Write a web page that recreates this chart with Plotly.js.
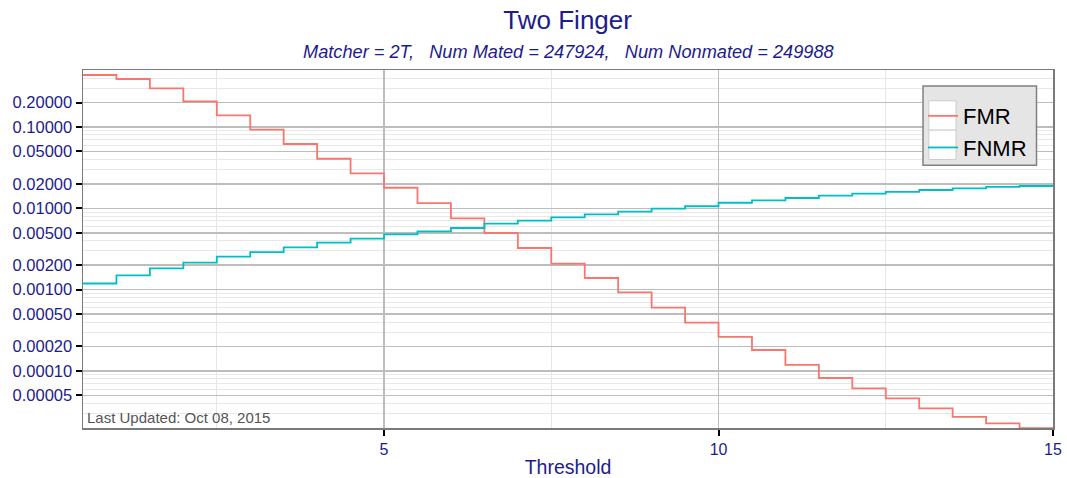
<!DOCTYPE html>
<html>
<head>
<meta charset="utf-8">
<script src="https://cdn.plot.ly/plotly-3.0.1.min.js"></script>
<style>html,body{margin:0;padding:0;background:#fff;}#chart{width:1067px;height:478px;}</style>
</head>
<body>
<div id="chart"></div>
<script>
// Thresholds (step starts), last entry closes the final step
const thresholds = [0.5,1,1.5,2,2.5,3,3.5,4,4.5,5,5.5,6,6.5,7,7.5,8,8.5,9,9.5,10,10.5,11,11.5,12,12.5,13,13.5,14,14.5,15];
const fmr = [0.436,0.389,0.299,0.207,0.139,0.0927,0.0618,0.0407,0.0269,0.0179,
             0.0116,0.00753,0.00497,0.00325,0.00209,0.00139,0.000926,0.000601,0.000393,0.000263,
             0.000181,0.000119,0.000082,0.0000612,0.0000461,0.0000347,0.0000272,0.0000227,0.0000198,0.0000198];
const fnmr = [0.00119,0.0015,0.00183,0.00215,0.00255,0.0029,0.00331,0.00379,0.00423,0.00479,
              0.00521,0.00573,0.00649,0.00706,0.00775,0.00844,0.0091,0.0099,0.0106,0.0117,
              0.0125,0.0134,0.0143,0.0152,0.0159,0.0168,0.0176,0.0183,0.0188,0.0188];
const yTickVals = [0.00005,0.0001,0.0002,0.0005,0.001,0.002,0.005,0.01,0.02,0.05,0.1,0.2];
const yTickText = ["0.00005","0.00010","0.00020","0.00050","0.00100","0.00200","0.00500","0.01000","0.02000","0.05000","0.10000","0.20000"];
const xTickVals = [5,10,15];

const navy = '#1c1c8c';
const font = 'Liberation Sans, Arial, sans-serif';

const traces = [
  {x: thresholds, y: fmr, name: 'FMR', mode: 'lines', line: {shape: 'hv', color: '#F8766D', width: 1.8}},
  {x: thresholds, y: fnmr, name: 'FNMR', mode: 'lines', line: {shape: 'hv', color: '#00BFC4', width: 1.8}}
];

const layout = {
  width: 1067, height: 478,
  margin: {l: 83, r: 14, t: 70, b: 50},
  paper_bgcolor: '#fff', plot_bgcolor: '#fff',
  font: {family: font, color: navy},
  title: {text: 'Two Finger', font: {size: 26, color: navy, family: font}, x: 0.532, xanchor: 'center', y: 0.978, yanchor: 'top'},
  showlegend: true,
  legend: {x: 0.866, y: 0.93, xanchor: 'left', yanchor: 'top', bgcolor: 'rgba(0,0,0,0)', borderwidth: 0,
           font: {size: 22, color: '#000', family: font}, tracegroupgap: 0},
  xaxis: {
    range: [0.5, 15], tickvals: xTickVals, ticktext: xTickVals.map(String),
    ticks: 'outside', ticklen: 6, tickwidth: 2, tickcolor: '#000',
    tickfont: {size: 16, color: navy},
    showgrid: true, gridcolor: '#bdbdbd', gridwidth: 1.6,
    minor: {dtick: 2.5, tick0: 0, showgrid: true, gridcolor: '#e6e6e6', gridwidth: 1, ticks: ''},
    showline: true, linecolor: '#7a7a7a', linewidth: 1.5, mirror: true, zeroline: false,
    title: {text: 'Threshold', font: {size: 19.5, color: navy}, standoff: 6}
  },
  yaxis: {
    type: 'log', range: [Math.log10(0.0000199), Math.log10(0.502)],
    tickvals: yTickVals, ticktext: yTickText,
    ticks: 'outside', ticklen: 6, tickwidth: 2, tickcolor: '#000',
    tickfont: {size: 16.5, color: navy},
    showgrid: true, gridcolor: '#bdbdbd', gridwidth: 1.6,
    minor: {dtick: 'D1', showgrid: true, gridcolor: '#e8e8e8', gridwidth: 1, ticks: ''},
    showline: true, linecolor: '#7a7a7a', linewidth: 1.5, mirror: true, zeroline: false
  },
  shapes: [
    {type: 'rect', xref: 'paper', yref: 'paper', x0: 0.866, x1: 0.983, y0: 0.734, y1: 0.955,
     fillcolor: '#e5e5e5', line: {color: '#808080', width: 1.5}, layer: 'above'},
    {type: 'rect', xref: 'paper', yref: 'paper', x0: 0.872, x1: 0.9, y0: 0.832, y1: 0.914,
     fillcolor: '#ffffff', line: {color: '#cccccc', width: 1}, layer: 'above'},
    {type: 'rect', xref: 'paper', yref: 'paper', x0: 0.872, x1: 0.9, y0: 0.75, y1: 0.832,
     fillcolor: '#ffffff', line: {color: '#cccccc', width: 1}, layer: 'above'}
  ],
  annotations: [
    {text: '<i>Matcher = 2T,   Num Mated = 247924,   Num Nonmated = 249988</i>', xref: 'paper', yref: 'paper',
     x: 0.5, y: 1.0, yshift: 18, xanchor: 'center', yanchor: 'middle', showarrow: false,
     font: {size: 18.2, color: navy, family: font}},
    {text: 'Last Updated: Oct 08, 2015', xref: 'paper', yref: 'paper', x: 0, y: 0, xshift: 2, yshift: 0,
     xanchor: 'left', yanchor: 'bottom', showarrow: false, font: {size: 15, color: '#555555', family: font}}
  ]
};

Plotly.newPlot('chart', traces, layout, {displayModeBar: false, staticPlot: true});
</script>
</body>
</html>
